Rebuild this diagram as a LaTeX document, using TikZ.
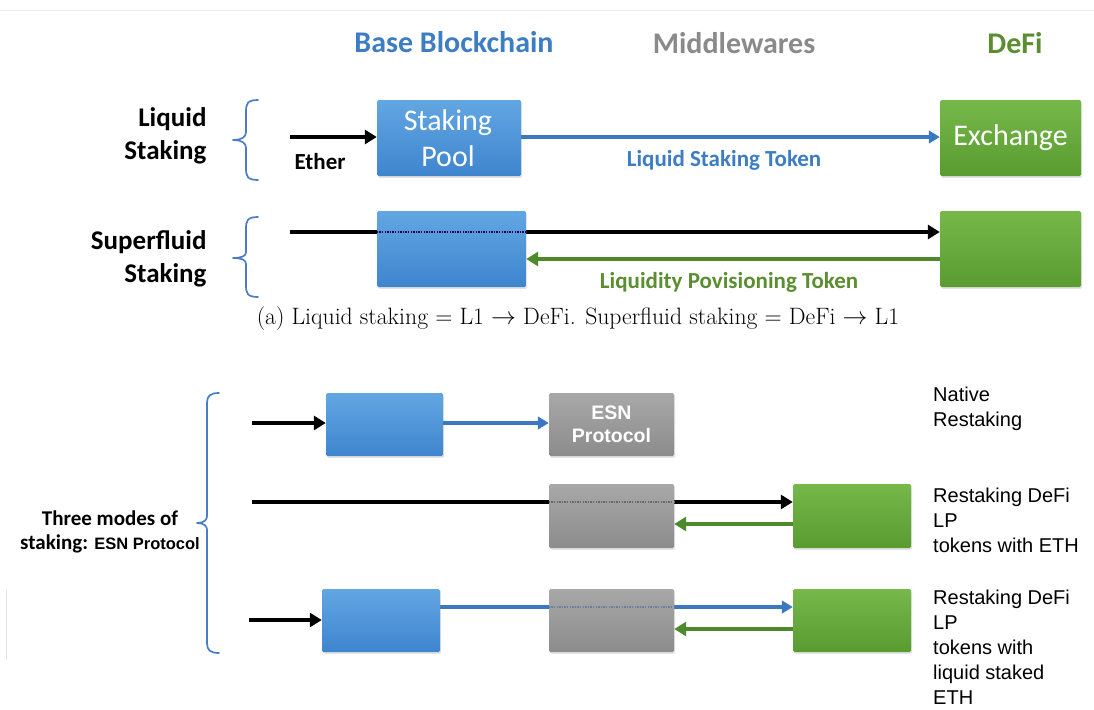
\documentclass[tikz,border=0pt]{standalone}
\usepackage{fontspec}
\newfontfamily\calib{Carlito}
\newfontfamily\arialf{Liberation Sans}
\usetikzlibrary{arrows.meta,shadows,backgrounds}
\definecolor{boxblueT}{HTML}{62A6E2}
\definecolor{boxblueB}{HTML}{3F85CE}
\definecolor{boxgreenT}{HTML}{76B84A}
\definecolor{boxgreenB}{HTML}{5A9B30}
\definecolor{boxgrayT}{HTML}{A8A8A8}
\definecolor{boxgrayB}{HTML}{8C8C8C}
\definecolor{txtblue}{HTML}{3C7DC4}
\definecolor{txtgreen}{HTML}{5B8E32}
\definecolor{txtgray}{HTML}{8A8A8A}
\definecolor{braceblue}{HTML}{4A7CC8}
\definecolor{lineblue}{HTML}{3A78C2}
\definecolor{linegreen}{HTML}{4E8A2C}
\begin{document}
\begin{tikzpicture}[x=1pt,y=-1pt,
  box/.style={draw=none, rounded corners=1.5pt, inner sep=0pt,
    drop shadow={opacity=0.22, shadow xshift=1.2pt, shadow yshift=-1.8pt}},
  bluebox/.style={box, top color=boxblueT, bottom color=boxblueB},
  greenbox/.style={box, top color=boxgreenT, bottom color=boxgreenB},
  graybox/.style={box, top color=boxgrayT, bottom color=boxgrayB},
  boxtext/.style={text=white, font=\calib\fontsize{30}{36}\selectfont, align=center},
  esntext/.style={text=white, font=\arialf\bfseries\fontsize{19.5}{23}\selectfont, align=center},
  header/.style={font=\calib\bfseries\fontsize{30}{34}\selectfont},
  rowlabel/.style={font=\calib\bfseries\fontsize{27}{33}\selectfont, align=right, anchor=east},
  sidelabel/.style={font=\arialf\fontsize{20}{25}\selectfont, align=left, anchor=north west, inner sep=0pt},
  tokenlabel/.style={font=\calib\bfseries\fontsize{23}{26}\selectfont},
  brace/.style={draw=braceblue, line width=1.7pt, line cap=round, line join=round},
  blackarrow/.style={draw=black, line width=4.3pt, -{Triangle[length=12pt,width=14pt]}},
  bluearrow/.style={draw=lineblue, line width=3.3pt, -{Triangle[length=11pt,width=12.5pt]}},
  greenarrow/.style={draw=linegreen, line width=3.7pt, -{Triangle[length=12pt,width=14pt]}},
  overlay dots/.style={draw=#1, line width=2.2pt, dash pattern=on 1.4pt off 1.2pt}
]
\useasboundingbox (0,0) rectangle (1094,709);
\begin{pgfonlayer}{background}
  \fill[white] (0,0) rectangle (1094,709);
\end{pgfonlayer}
% faint rules of the page
\draw[black!7, line width=1pt] (0,11) -- (1094,11);
\draw[black!10, line width=1pt] (6,590) -- (6,660);

% column headers
\node[header, text=txtblue] (hbase) at (454,42) {Base Blockchain};
\node[header, text=txtgray] (hmid) at (734,43) {Middlewares};
\node[header, text=txtgreen] (hdefi) at (1015,43) {DeFi};

% ---------- liquid staking ----------
\node[rowlabel] (lqlabel) at (210,136) {Liquid\\Staking};
\draw[brace] (258,100) .. controls (247,100) and (246,104) .. (246,112)
  -- (246,132) .. controls (246,137) and (242,140) .. (233,140)
  .. controls (242,140) and (246,143) .. (246,148)
  -- (246,168) .. controls (246,176) and (247,180) .. (258,180);
\node[bluebox, minimum width=144pt, minimum height=76pt] (pool) at (449,138) {};
\node[boxtext] (pooltxt) at (448,138) {Staking\\Pool};
\node[greenbox, minimum width=141pt, minimum height=76pt] (exch) at (1010.5,138) {};
\node[boxtext] (exchtxt) at (exch) {Exchange};
\coordinate (ethin) at (290,137);
\node[font=\calib\bfseries\fontsize{23}{26}\selectfont] (ether) at (320,162) {Ether};
\draw[blackarrow] (ethin) -- (ethin -| pool.west);
\draw[bluearrow] (pool.east |- ethin) -- (exch.west |- ethin);
\node[tokenlabel, text=txtblue] (lst) at (724,160) {Liquid Staking Token};

% ---------- superfluid staking ----------
\node[rowlabel] (sflabel) at (210,259) {Superfluid\\Staking};
\draw[brace] (258,217) .. controls (247,217) and (246,221) .. (246,229)
  -- (246,252) .. controls (246,256) and (242,258) .. (233,258)
  .. controls (242,258) and (246,260) .. (246,264)
  -- (246,285) .. controls (246,293) and (247,297) .. (258,297);
\node[bluebox, minimum width=149pt, minimum height=76pt] (sfpool) at (451.5,249) {};
\node[greenbox, minimum width=141pt, minimum height=76pt] (sfdefi) at (1010.5,249) {};
\coordinate (sfin) at (290,232);
\coordinate (sfback) at (0,259);
\begin{pgfonlayer}{background}
  \draw[blackarrow] (sfin) -- (sfin -| sfdefi.west);
\end{pgfonlayer}
\draw[overlay dots=black!70!blue] (sfin -| sfpool.west) -- (sfin -| sfpool.east);
\draw[greenarrow] (sfdefi.west |- sfback) -- (sfpool.east |- sfback);
\node[tokenlabel, text=txtgreen] (lpt) at (729,282) {Liquidity Povisioning Token};

% caption
\node[font=\fontsize{23.7}{27}\selectfont] (caption) at (578,319)
  {(a) Liquid staking = L1 $\rightarrow$ DeFi. Superfluid staking = DeFi $\rightarrow$ L1};

% ---------- three modes of staking ----------
\node[align=center, font=\calib\bfseries\fontsize{21}{24}\selectfont] (modes) at (110,532)
  {Three modes of\\staking: {\arialf\bfseries\fontsize{16.5}{24}\selectfont ESN Protocol}};
\draw[brace] (219,393) .. controls (210,393) and (207,396) .. (207,403)
  -- (207,516) .. controls (207,520) and (204,523) .. (197,523)
  .. controls (204,523) and (207,526) .. (207,530)
  -- (207,643) .. controls (207,650) and (210,653) .. (219,653);

% native restaking
\node[bluebox, minimum width=117pt, minimum height=63pt] (naBlue) at (384.5,424.5) {};
\node[graybox, minimum width=125pt, minimum height=63pt] (naEsn) at (611.5,424.5) {};
\node[esntext] (esntxt) at (naEsn) {ESN\\Protocol};
\coordinate (nain) at (252,423);
\draw[blackarrow] (nain) -- (nain -| naBlue.west);
\draw[bluearrow] (naBlue.east |- nain) -- (nain -| naEsn.west);
\node[sidelabel] (nalabel) at (933,387) {Native\\Restaking};

% restaking DeFi LP tokens with ETH
\node[graybox, minimum width=125pt, minimum height=64pt] (lpEsn) at (611.5,516) {};
\node[greenbox, minimum width=118pt, minimum height=64pt] (lpDefi) at (852,516) {};
\coordinate (lpin) at (252,502);
\coordinate (lpback) at (0,524);
\begin{pgfonlayer}{background}
  \draw[blackarrow] (lpin) -- (lpin -| lpDefi.west);
\end{pgfonlayer}
\draw[overlay dots=black!60] (lpin -| lpEsn.west) -- (lpin -| lpEsn.east);
\draw[greenarrow] (lpDefi.west |- lpback) -- (lpEsn.east |- lpback);
\node[sidelabel] (lplabel) at (933,488) {Restaking DeFi\\LP\\tokens with ETH};

% restaking DeFi LP tokens with liquid staked ETH
\node[bluebox, minimum width=118pt, minimum height=63pt] (lsBlue) at (381,620.5) {};
\node[graybox, minimum width=125pt, minimum height=63pt] (lsEsn) at (611.5,620.5) {};
\node[greenbox, minimum width=118pt, minimum height=63pt] (lsDefi) at (852,620.5) {};
\coordinate (lsin) at (249,620);
\coordinate (lsfwd) at (0,607);
\coordinate (lsback) at (0,629);
\draw[blackarrow] (lsin) -- (lsin -| lsBlue.west);
\begin{pgfonlayer}{background}
  \draw[bluearrow] (lsBlue.east |- lsfwd) -- (lsDefi.west |- lsfwd);
\end{pgfonlayer}
\draw[overlay dots=lineblue!60!black!70] (lsEsn.west |- lsfwd) -- (lsEsn.east |- lsfwd);
\draw[greenarrow] (lsDefi.west |- lsback) -- (lsEsn.east |- lsback);
\node[sidelabel] (lslabel) at (933,590) {Restaking DeFi\\LP\\tokens with\\liquid staked\\ETH};
\end{tikzpicture}
\end{document}
